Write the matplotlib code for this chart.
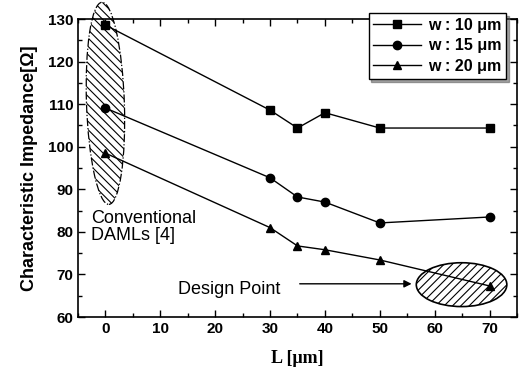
import numpy as np
import matplotlib.pyplot as plt
from matplotlib.patches import Ellipse
from matplotlib.ticker import MultipleLocator

L = [0, 30, 35, 40, 50, 70]
z_w10 = [128.6, 108.6, 104.4, 108.0, 104.4, 104.4]
z_w15 = [109.1, 92.7, 88.2, 87.0, 82.1, 83.5]
z_w20 = [98.5, 81.0, 76.7, 75.8, 73.4, 67.3]
labels = ['w : 10 \u03bcm', 'w : 15 \u03bcm', 'w : 20 \u03bcm']

plt.rcParams['font.family'] = ['Liberation Sans', 'DejaVu Sans']
plt.rcParams['hatch.linewidth'] = 0.8

fig = plt.figure(figsize=(5.21, 3.74), dpi=100)
ax = fig.add_axes([0.1497, 0.1524, 0.8426, 0.7966])

ax.plot(L, z_w10, '-s', color='black', lw=1, ms=6, label=labels[0])
ax.plot(L, z_w15, '-o', color='black', lw=1, ms=6, label=labels[1])
ax.plot(L, z_w20, '-^', color='black', lw=1, ms=6, label=labels[2])

# hatched ellipses
e1 = Ellipse((0, 110.2), 6.9, 47.5, angle=1.5, fill=False, hatch='\\\\\\\\',
             edgecolor='black', lw=0.9, linestyle='-.', clip_on=False)
ax.add_patch(e1)
e2 = Ellipse((64.9, 67.6), 16.5, 10.3, fill=False, hatch='////',
             edgecolor='black', lw=1.2)
ax.add_patch(e2)

ax.text(-2.6, 81.2, 'Conventional\nDAMLs [4]', fontsize=13, va='center',
        ha='left', linespacing=1.0)
ax.text(13.2, 66.4, 'Design Point', fontsize=13, va='center', ha='left')
ax.annotate('', xy=(56.3, 67.8), xytext=(34.9, 67.8),
            arrowprops=dict(arrowstyle='-|>', color='black', lw=1,
                            mutation_scale=11))

ax.set_xlim(-5, 75)
ax.set_ylim(60, 130)
ax.xaxis.set_major_locator(MultipleLocator(10))
ax.xaxis.set_minor_locator(MultipleLocator(5))
ax.yaxis.set_major_locator(MultipleLocator(10))
ax.yaxis.set_minor_locator(MultipleLocator(5))
ax.set_xticks(np.arange(0, 80, 10))
ax.tick_params(which='both', direction='in', top=True, right=True, width=1)
ax.tick_params(which='major', length=5, labelsize=11)
ax.tick_params(which='minor', length=3)
for t in ax.get_xticklabels() + ax.get_yticklabels():
    t.set_fontweight('bold')
for s in ax.spines.values():
    s.set_linewidth(1.2)

ax.set_xlabel('L [\u03bcm]', fontsize=13, fontweight='bold',
              family=['Liberation Serif', 'DejaVu Serif'], labelpad=10)
ax.set_ylabel('Characteristic Impedance[\u03a9]', fontsize=13,
              fontweight='bold', labelpad=7)

leg = ax.legend(loc='upper right', bbox_to_anchor=(0.975, 1.02),
                fancybox=False, shadow=True, frameon=True,
                prop={'weight': 'bold', 'size': 11.5},
                handlelength=3.0, borderpad=0.3, labelspacing=0.35,
                handletextpad=0.4, borderaxespad=0.0)
leg.get_frame().set_edgecolor('black')
leg.get_frame().set_linewidth(1)

fig.savefig('out.png', dpi=100)
